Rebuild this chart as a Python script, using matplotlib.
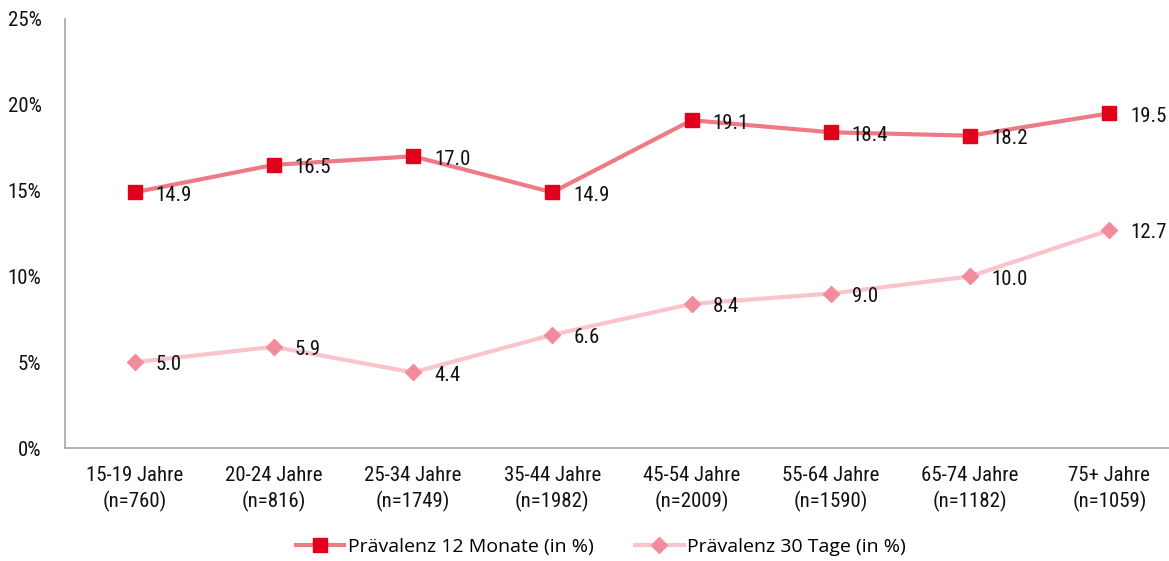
import matplotlib
matplotlib.use("Agg")
import matplotlib.pyplot as plt
from matplotlib import font_manager as fm
from matplotlib.ticker import FuncFormatter

categories = ["15-19 Jahre\n(n=760)", "20-24 Jahre\n(n=816)", "25-34 Jahre\n(n=1749)",
              "35-44 Jahre\n(n=1982)", "45-54 Jahre\n(n=2009)", "55-64 Jahre\n(n=1590)",
              "65-74 Jahre\n(n=1182)", "75+ Jahre\n(n=1059)"]
praev_12m = [14.9, 16.5, 17.0, 14.9, 19.1, 18.4, 18.2, 19.5]
praev_30t = [5.0, 5.9, 4.4, 6.6, 8.4, 9.0, 10.0, 12.7]
yticks = [0, 5, 10, 15, 20, 25]

names = {f.name for f in fm.fontManager.ttflist}
narrow = "DejaVu Sans"
for cand in ["Liberation Sans Narrow", "Roboto Condensed", "Open Sans Condensed", "Roboto"]:
    if cand in names:
        narrow = cand
        break
legfont = "Open Sans" if "Open Sans" in names else "DejaVu Sans"
fs = 15 if "Narrow" in narrow or "Condensed" in narrow else 13

fig = plt.figure(figsize=(11.69, 5.61), dpi=100)
ax = fig.add_axes([65/1169, 113/561, 1114/1169, 429/561])

x = list(range(len(categories)))
ax.plot(x, praev_12m, color="#EE7A86", lw=3, marker="s", ms=10.5,
        mfc="#E2001A", mec="#E2001A", label="Prävalenz 12 Monate (in %)", zorder=3)
ax.plot(x, praev_30t, color="#F9C4CC", lw=3, marker="D", ms=8,
        mfc="#F28C9A", mec="#F28C9A", label="Prävalenz 30 Tage (in %)", zorder=3)

for series in (praev_12m, praev_30t):
    for xi, v in zip(x, series):
        ax.annotate(f"{v:.1f}", (xi, v), xytext=(15, -2), textcoords="offset points",
                    ha="left", va="center", fontsize=fs, family=narrow, color="#111111")

ax.set_xlim(-0.5, len(categories) - 0.5)
ax.set_ylim(0, 25)
ax.set_yticks(yticks)
ax.yaxis.set_major_formatter(FuncFormatter(lambda v, p: f"{int(v)}%"))
ax.set_xticks(x)
ax.set_xticklabels(categories, linespacing=1.35)
ax.tick_params(axis="both", length=0, labelsize=fs)
ax.tick_params(axis="y", pad=17)
ax.tick_params(axis="x", pad=13)
for lab in ax.get_xticklabels() + ax.get_yticklabels():
    lab.set_family(narrow)
    lab.set_color("#111111")
for s in ["top", "right"]:
    ax.spines[s].set_visible(False)
for s in ["left", "bottom"]:
    ax.spines[s].set_color("#A6A6A6")
    ax.spines[s].set_linewidth(1.2)

leg = fig.legend(loc="center", bbox_to_anchor=(601/1169, 1 - 547/561), ncol=2,
                 frameon=False, prop={"family": legfont, "size": 14},
                 handlelength=2.5, columnspacing=2.1, handletextpad=0.2)

fig.savefig("out.png", dpi=100)
